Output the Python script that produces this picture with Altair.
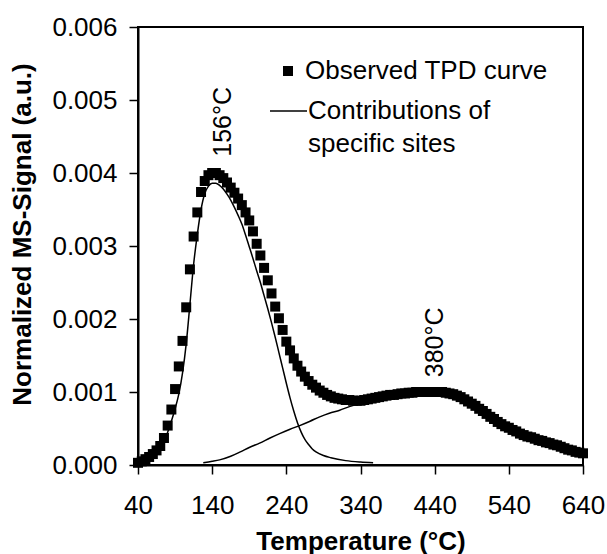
import altair as alt
import pandas as pd

# ---------------- data ----------------
obs_T = list(range(40, 645, 5))
obs_v = [
    0.00003, 0.00005, 0.00008, 0.00011, 0.00015, 0.00020, 0.00026, 0.00037, 0.00054, 0.00076,
    0.00104, 0.00135, 0.00170, 0.00216, 0.00268, 0.00313, 0.00346, 0.00374, 0.00389, 0.00397,
    0.00400, 0.00400, 0.00397, 0.00393, 0.00387, 0.00380, 0.00373, 0.00365, 0.00356, 0.00346,
    0.00335, 0.00320, 0.00303, 0.00287, 0.00270, 0.00253, 0.00235, 0.00217, 0.00201, 0.00185,
    0.00169, 0.00157, 0.00146, 0.00136, 0.00128, 0.00121, 0.00115, 0.00110, 0.00106, 0.00102,
    0.00099, 0.00096, 0.00094, 0.00092, 0.00091, 0.00090, 0.00089, 0.00089, 0.00088, 0.00088,
    0.00088, 0.00089, 0.00090, 0.00091, 0.00092, 0.00093, 0.00094, 0.00095, 0.00096, 0.00096,
    0.00097, 0.00098, 0.00098, 0.00099, 0.00099, 0.00100, 0.00100, 0.00100, 0.00100, 0.00100,
    0.00100, 0.00100, 0.00100, 0.00099, 0.00098, 0.00097, 0.00095, 0.00093, 0.00090, 0.00087,
    0.00084, 0.00081, 0.00077, 0.00074, 0.00070, 0.00066, 0.00063, 0.00059, 0.00056, 0.00053,
    0.00051, 0.00048, 0.00046, 0.00043, 0.00041, 0.00039, 0.00038, 0.00036, 0.00034, 0.00033,
    0.00031, 0.00030, 0.00028, 0.00027, 0.00025, 0.00023, 0.00021, 0.00020, 0.00018, 0.00017,
    0.00016,
]

site1_T = [45, 55, 65, 75, 80, 85, 90, 95, 100, 105, 110, 115, 120, 125, 130, 135, 140, 145,
           150, 155, 160, 165, 170, 175, 180, 185, 190, 195, 200, 205, 210, 215, 220, 225, 230,
           235, 240, 245, 250, 255, 260, 265, 270, 275, 280, 290, 300, 320, 340, 357]
site1_v = [0.00002, 0.00006, 0.00016, 0.00033, 0.00045, 0.00060, 0.00077, 0.00097, 0.00126,
           0.00166, 0.00220, 0.00275, 0.00316, 0.00350, 0.00372, 0.00382, 0.00386, 0.00386,
           0.00383, 0.00378, 0.00371, 0.00363, 0.00353, 0.00342, 0.00330, 0.00315, 0.00299,
           0.00283, 0.00266, 0.00250, 0.00232, 0.00214, 0.00195, 0.00175, 0.00154, 0.00133,
           0.00112, 0.00092, 0.00074, 0.00058, 0.00045, 0.00035, 0.00028, 0.00022, 0.00018,
           0.00013, 0.00010, 0.00006, 0.00004, 0.00003]

site2_T = [128, 140, 150, 165, 178, 190, 204, 218, 231, 245, 258, 272, 285, 298, 312, 325, 339,
           355, 370, 385, 400, 420, 440, 460, 480, 500, 520, 540, 560, 580, 600, 620, 640]
site2_v = [0.00003, 0.00005, 0.00007, 0.00012, 0.00018, 0.00024, 0.00030, 0.00037, 0.00043,
           0.00049, 0.00054, 0.00060, 0.00066, 0.00071, 0.00075, 0.00080, 0.00084, 0.00087,
           0.00090, 0.00093, 0.00095, 0.00097, 0.00097, 0.00095, 0.00088, 0.00076, 0.00062,
           0.00050, 0.00040, 0.00033, 0.00027, 0.00021, 0.00016]

peak_T = [155, 440]
peak_v = [0.0047, 0.00168]
peak_text = ["156°C", "380°C"]

x_ticks = [40, 140, 240, 340, 440, 540, 640]
y_ticks = [0.000, 0.001, 0.002, 0.003, 0.004, 0.005, 0.006]

legend_obs = "Observed TPD curve"
legend_sites = ["Contributions of", "specific sites"]

FONT = "Liberation Sans"
W, H = 445, 438

# ---------------- tables ----------------
obs = pd.DataFrame({"T": obs_T, "v": obs_v})
sites = pd.concat([
    pd.DataFrame({"T": site1_T, "v": site1_v, "site": "low"}),
    pd.DataFrame({"T": site2_T, "v": site2_v, "site": "high"}),
])
peaks = pd.DataFrame({"T": peak_T, "v": peak_v, "label": peak_text})

xscale = alt.Scale(domain=[40, 640], nice=False, zero=False)
yscale = alt.Scale(domain=[0, 0.006], nice=False)

xaxis = alt.Axis(values=x_ticks, title="Temperature (°C)", tickSize=9, labelPadding=18,
                 titlePadding=10, labelFlush=False, labelOverlap=False)
yaxis = alt.Axis(values=y_ticks, format=".3f", title="Normalized MS-Signal (a.u.)",
                 tickSize=9, labelPadding=12, titlePadding=16, labelFlush=False,
                 labelOverlap=False, titleY=H / 2 - 12)

points = alt.Chart(obs).mark_square(size=100, color="black", opacity=1).encode(
    x=alt.X("T:Q", scale=xscale, axis=xaxis),
    y=alt.Y("v:Q", scale=yscale, axis=yaxis),
)

lines = alt.Chart(sites).mark_line(color="black", strokeWidth=1.5, interpolate="monotone").encode(
    x="T:Q", y="v:Q", detail="site:N"
)

labels = alt.Chart(peaks).mark_text(angle=270, fontSize=25, font=FONT, color="black",
                                    align="center", baseline="middle").encode(
    x="T:Q", y="v:Q", text="label:N"
)

# legend (drawn inside the plot area, upper right)
leg_df = pd.DataFrame({"k": [0]})
leg_sq = alt.Chart(leg_df).mark_square(size=100, color="black", opacity=1).encode(
    x=alt.value(150), y=alt.value(44))
leg_t1 = alt.Chart(leg_df).mark_text(text=legend_obs, fontSize=26, font=FONT, color="black",
                                     align="left", baseline="middle").encode(
    x=alt.value(167), y=alt.value(44))
leg_ln = alt.Chart(leg_df).mark_rule(color="black", strokeWidth=1.5).encode(
    x=alt.value(132), x2=alt.value(169), y=alt.value(84))
leg_t2 = alt.Chart(leg_df).mark_text(text=legend_sites[0], fontSize=26, font=FONT, color="black",
                                     align="left", baseline="middle").encode(
    x=alt.value(170), y=alt.value(84))
leg_t3 = alt.Chart(leg_df).mark_text(text=legend_sites[1], fontSize=26, font=FONT, color="black",
                                     align="left", baseline="middle").encode(
    x=alt.value(170), y=alt.value(117))

chart = alt.layer(points, lines, labels, leg_sq, leg_t1, leg_ln, leg_t2, leg_t3).properties(
    width=W, height=H,
    padding={"left": 138, "top": 27, "right": 24, "bottom": 89},
    autosize=alt.AutoSizeParams(type="none"),
    background="white",
).configure_view(
    stroke="black", strokeWidth=2
).configure_axis(
    grid=False, domainColor="black", domainWidth=2, tickColor="black", tickWidth=1.5,
    labelFont=FONT, labelFontSize=26, labelColor="black",
    titleFont=FONT, titleFontSize=26, titleFontWeight="bold", titleColor="black",
)

chart.save("out.html", embed_options={"renderer": "svg", "actions": False})
